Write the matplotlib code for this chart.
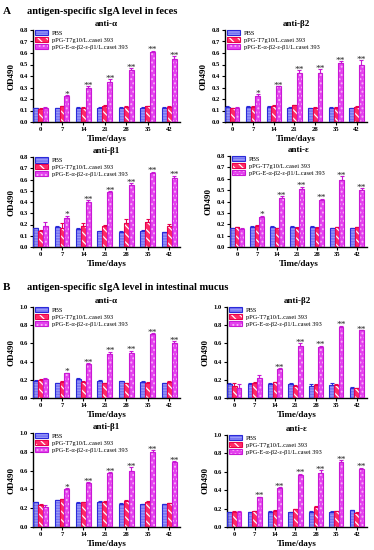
import numpy as np
import matplotlib.pyplot as plt
from matplotlib.legend_handler import HandlerTuple

plt.rcParams['font.family'] = ['Liberation Serif', 'DejaVu Serif']
plt.rcParams['hatch.linewidth'] = 0.9

days = ['0', '7', '14', '21', '28', '35', '42']
groups = ['PBS', 'pPG-T7g10/L.casei 393', 'pPG-E-α-β2-ε-β1/L.casei 393']

# A: feces
fa_pbs = [0.12, 0.12, 0.125, 0.125, 0.125, 0.125, 0.125]
fa_t7 = [0.115, 0.135, 0.125, 0.14, 0.13, 0.135, 0.13]
fa_mix = [0.125, 0.225, 0.295, 0.345, 0.455, 0.605, 0.545]
fa_mix_err = [0.005, 0.008, 0.015, 0.025, 0.015, 0.015, 0.025]

fb2_pbs = [0.13, 0.13, 0.13, 0.125, 0.12, 0.125, 0.12]
fb2_t7 = [0.12, 0.13, 0.14, 0.145, 0.125, 0.125, 0.13]
fb2_mix = [0.125, 0.225, 0.31, 0.425, 0.425, 0.51, 0.495]
fb2_mix_err = [0.005, 0.015, 0.005, 0.025, 0.035, 0.02, 0.045]

fb1_pbs = [0.165, 0.18, 0.16, 0.14, 0.135, 0.145, 0.13]
fb1_t7 = [0.145, 0.17, 0.19, 0.185, 0.215, 0.22, 0.19]
fb1_t7_err = [0.01, 0.04, 0.025, 0.01, 0.035, 0.03, 0.015]
fb1_mix = [0.185, 0.255, 0.4, 0.49, 0.55, 0.655, 0.615]
fb1_mix_err = [0.035, 0.025, 0.02, 0.005, 0.015, 0.015, 0.02]

fe_pbs = [0.165, 0.18, 0.18, 0.18, 0.18, 0.165, 0.165]
fe_t7 = [0.175, 0.185, 0.165, 0.17, 0.17, 0.175, 0.175]
fe_mix = [0.16, 0.265, 0.435, 0.51, 0.415, 0.59, 0.5]
fe_mix_err = [0.01, 0.01, 0.015, 0.02, 0.01, 0.035, 0.015]

# B: intestinal mucus
ia_pbs = [0.19, 0.165, 0.21, 0.19, 0.185, 0.18, 0.165]
ia_t7 = [0.2, 0.18, 0.18, 0.16, 0.16, 0.17, 0.18]
ia_mix = [0.21, 0.27, 0.375, 0.48, 0.5, 0.7, 0.6]
ia_mix_err = [0.01, 0.01, 0.01, 0.03, 0.02, 0.01, 0.025]

ib2_pbs = [0.15, 0.155, 0.15, 0.155, 0.135, 0.14, 0.11]
ib2_pbs_err = [0.02, 0.005, 0.015, 0.01, 0.015, 0.025, 0.01]
ib2_t7 = [0.13, 0.165, 0.175, 0.135, 0.145, 0.145, 0.11]
ib2_t7_err = [0.03, 0.01, 0.005, 0.005, 0.005, 0.01, 0.005]
ib2_mix = [0.115, 0.215, 0.32, 0.575, 0.555, 0.785, 0.745]
ib2_mix_err = [0.04, 0.035, 0.005, 0.03, 0.02, 0.01, 0.005]

ib1_pbs = [0.265, 0.285, 0.26, 0.27, 0.25, 0.24, 0.24]
ib1_t7 = [0.235, 0.295, 0.265, 0.27, 0.28, 0.27, 0.255]
ib1_mix = [0.21, 0.405, 0.465, 0.57, 0.595, 0.795, 0.69]
ib1_mix_err = [0.025, 0.01, 0.01, 0.01, 0.04, 0.02, 0.015]

ie_pbs = [0.16, 0.16, 0.165, 0.16, 0.165, 0.165, 0.18]
ie_t7 = [0.165, 0.17, 0.175, 0.195, 0.22, 0.17, 0.155]
ie_mix = [0.165, 0.325, 0.425, 0.565, 0.59, 0.71, 0.635]
ie_mix_err = [0.005, 0.005, 0.01, 0.015, 0.03, 0.02, 0.01]

small = [0.005] * 7
stars1 = ['', '*', '**', '**', '**', '**', '**']
stars2 = ['', '', '**', '**', '**', '**', '**']
stars3 = ['', '**', '**', '**', '**', '**', '**']

# colours: fill, edge, hatch colour, hatch
styles = [('#7474f4', '#2a2ad8', '#9a9af8', '------'),
          ('#ff2a66', '#e8004c', 'white', '\\\\\\\\'),
          ('#e442ee', '#c818d4', '#f8b0f8', '....')]

W, H = 374, 550
fig = plt.figure(figsize=(W / 100, H / 100), dpi=100)


def ax_at(x0, x1, y0, y1):
    return fig.add_axes([x0 / W, 1 - y1 / H, (x1 - x0) / W, (y1 - y0) / H])


def panel(ax, title, vals, errs, stars, ymax, ystep):
    x = np.arange(len(days))
    w = 0.23
    handles = []
    for i, (v, e) in enumerate(zip(vals, errs)):
        fc, ec, hc, hatch = styles[i]
        xi = x + (i - 1) * w
        b1 = ax.bar(xi, v, w, color=fc, edgecolor=hc, hatch=hatch, linewidth=0, zorder=2)
        b2 = ax.bar(xi, v, w, fill=False, edgecolor=ec, linewidth=0.8, zorder=3)
        ax.errorbar(xi, v, yerr=[np.zeros(len(v)), e], fmt='none', ecolor=ec,
                    elinewidth=0.8, capsize=1.3, capthick=0.8, zorder=1)
        handles.append((b1[0], b2[0]))
    top = np.array(vals[2]) + np.array(errs[2])
    for xi, t, s in zip(x + w, top, stars):
        if s:
            ax.annotate(s, (xi, t), xytext=(0, -1.2), textcoords='offset points',
                        ha='center', va='baseline', fontsize=6.8, color='#222222')
    ax.set_xlim(-0.35, 6.5)
    ax.set_ylim(0, ymax)
    ax.set_yticks(np.arange(0, ymax + 0.001, ystep))
    ax.set_yticklabels(['%.1f' % t for t in np.arange(0, ymax + 0.001, ystep)])
    ax.set_xticks(x)
    ax.set_xticklabels(days)
    for sp in ['top', 'right']:
        ax.spines[sp].set_visible(False)
    for sp in ['left', 'bottom']:
        ax.spines[sp].set_linewidth(1.0)
    ax.tick_params(labelsize=4.8, length=2, width=0.8, pad=1.5)
    for lab in ax.get_xticklabels() + ax.get_yticklabels():
        lab.set_fontweight('bold')
    ax.set_title(title, fontsize=6.5, fontweight='bold', pad=3)
    ax.set_xlabel('Time/days', fontsize=6.5, fontweight='bold', labelpad=2)
    ax.set_ylabel('OD490', fontsize=6.5, fontweight='bold', labelpad=3)
    ax.legend(handles, groups, handler_map={tuple: HandlerTuple(ndivide=1)},
              loc='upper left', bbox_to_anchor=(-0.01, 1.04), frameon=False,
              fontsize=4.6, handlelength=2.0, handleheight=0.9, labelspacing=0.15,
              handletextpad=0.6, borderaxespad=0.2)


ax = ax_at(33, 180, 30, 122)
panel(ax, 'anti-α', [fa_pbs, fa_t7, fa_mix], [small, small, fa_mix_err], stars1, 0.8, 0.1)
ax = ax_at(225, 367, 30, 122)
panel(ax, 'anti-β2', [fb2_pbs, fb2_t7, fb2_mix], [small, small, fb2_mix_err], stars1, 0.8, 0.1)
ax = ax_at(33, 180, 157, 247)
panel(ax, 'anti-β1', [fb1_pbs, fb1_t7, fb1_mix], [small, fb1_t7_err, fb1_mix_err], stars1, 0.8, 0.1)
ax = ax_at(230, 367, 156, 247)
panel(ax, 'anti-ε', [fe_pbs, fe_t7, fe_mix], [small, small, fe_mix_err], stars1, 0.8, 0.1)

ax = ax_at(33, 180, 307, 398)
panel(ax, 'anti-α', [ia_pbs, ia_t7, ia_mix], [small, small, ia_mix_err], stars1, 1.0, 0.2)
ax = ax_at(227, 367, 307, 398)
panel(ax, 'anti-β2', [ib2_pbs, ib2_t7, ib2_mix], [ib2_pbs_err, ib2_t7_err, ib2_mix_err], stars2, 1.0, 0.2)
ax = ax_at(33, 180, 433, 527)
panel(ax, 'anti-β1', [ib1_pbs, ib1_t7, ib1_mix], [small, small, ib1_mix_err], stars1, 1.0, 0.2)
ax = ax_at(227, 367, 435, 527)
panel(ax, 'anti-ε', [ie_pbs, ie_t7, ie_mix], [small, small, ie_mix_err], stars3, 1.0, 0.2)

fig.text(3 / W, 1 - 11 / H, 'A', fontsize=8, fontweight='bold', va='center')
fig.text(27 / W, 1 - 11 / H, 'antigen-specific sIgA level in feces', fontsize=7.5,
         fontweight='bold', va='center')
fig.text(3 / W, 1 - 287 / H, 'B', fontsize=8, fontweight='bold', va='center')
fig.text(27 / W, 1 - 287 / H, 'antigen-specific sIgA level in intestinal mucus', fontsize=7.5,
         fontweight='bold', va='center')

fig.savefig('out.png', dpi=100)
